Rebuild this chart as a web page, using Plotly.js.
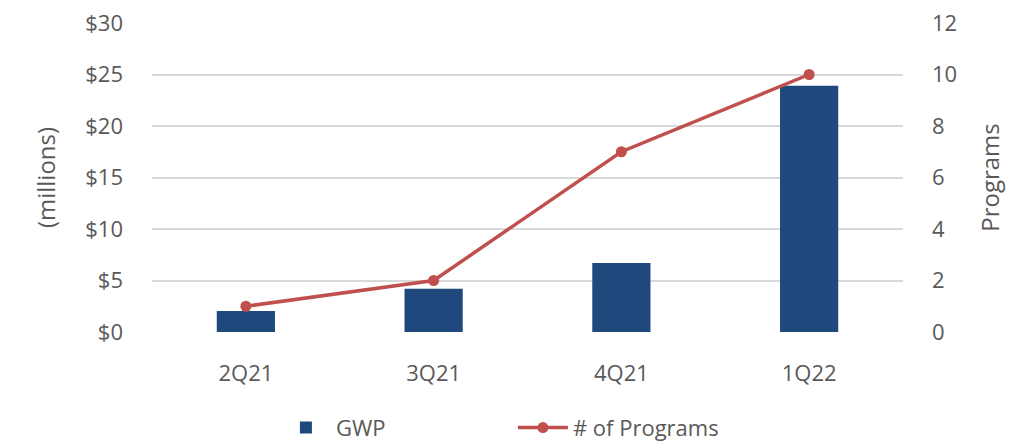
<!DOCTYPE html>
<html>
<head>
<meta charset="utf-8">
<script src="https://cdn.plot.ly/plotly-3.0.1.min.js"></script>
<style>
  html, body { margin: 0; padding: 0; background: #fff; }
  #chart { width: 1026px; height: 448px; }
</style>
</head>
<body>
<div id="chart"></div>
<script>
let quarters = ["2Q21", "3Q21", "4Q21", "1Q22"];
let gwpMillions = [2.05, 4.2, 6.7, 23.9];
let programCounts = [1, 2, 7, 10];

let leftTickVals = [0, 5, 10, 15, 20, 25, 30];
let leftTickText = ["$0", "$5", "$10", "$15", "$20", "$25", "$30"];
let rightTickVals = [0, 2, 4, 6, 8, 10, 12];

let grey = "#595959";
let fontFam = "Open Sans, Lato, sans-serif";

let barTrace = {
    x: quarters,
    y: gwpMillions,
    name: "GWP",
    type: "bar",
    marker: {color: "#1F497D"},
    width: 0.31
};

let lineTrace = {
    x: quarters,
    y: programCounts,
    name: "# of Programs",
    type: "scatter",
    mode: "lines+markers",
    yaxis: "y2",
    line: {color: "#C0504D", width: 3.5},
    marker: {color: "#C0504D", size: 11}
};

let layout = {
    width: 1026,
    height: 448,
    margin: {l: 152, r: 123, t: 23, b: 116, autoexpand: false},
    paper_bgcolor: "#fff",
    plot_bgcolor: "#fff",
    font: {family: fontFam, color: grey, size: 22},
    showlegend: true,
    legend: {
        orientation: "h",
        x: 0.165, xanchor: "left",
        y: -0.31, yanchor: "middle",
        font: {size: 22, color: grey},
        traceorder: "normal",
        itemwidth: 50,
        entrywidth: 172,
        entrywidthmode: "pixels"
    },
    xaxis: {
        showgrid: false,
        zeroline: false,
        showline: false,
        ticks: "",
        tickfont: {size: 22, color: grey},
        ticklabelstandoff: 26
    },
    yaxis: {
        range: [0, 30],
        tickvals: leftTickVals,
        ticktext: leftTickText,
        showgrid: true,
        gridcolor: "#D9D9D9",
        gridwidth: 1.5,
        zeroline: false,
        showline: false,
        ticks: "",
        tickfont: {size: 22, color: grey},
        ticklabelstandoff: 28,
        title: {text: "(millions)", font: {size: 24, color: grey}, standoff: 22}
    },
    yaxis2: {
        range: [0, 12],
        tickvals: rightTickVals,
        overlaying: "y",
        side: "right",
        showgrid: false,
        zeroline: false,
        showline: false,
        ticks: "",
        tickfont: {size: 22, color: grey},
        ticklabelstandoff: 28,
        title: {text: "Programs", font: {size: 24, color: grey}, standoff: 26}
    }
};

Plotly.newPlot("chart", [barTrace, lineTrace], layout, {displayModeBar: false});
</script>
</body>
</html>
